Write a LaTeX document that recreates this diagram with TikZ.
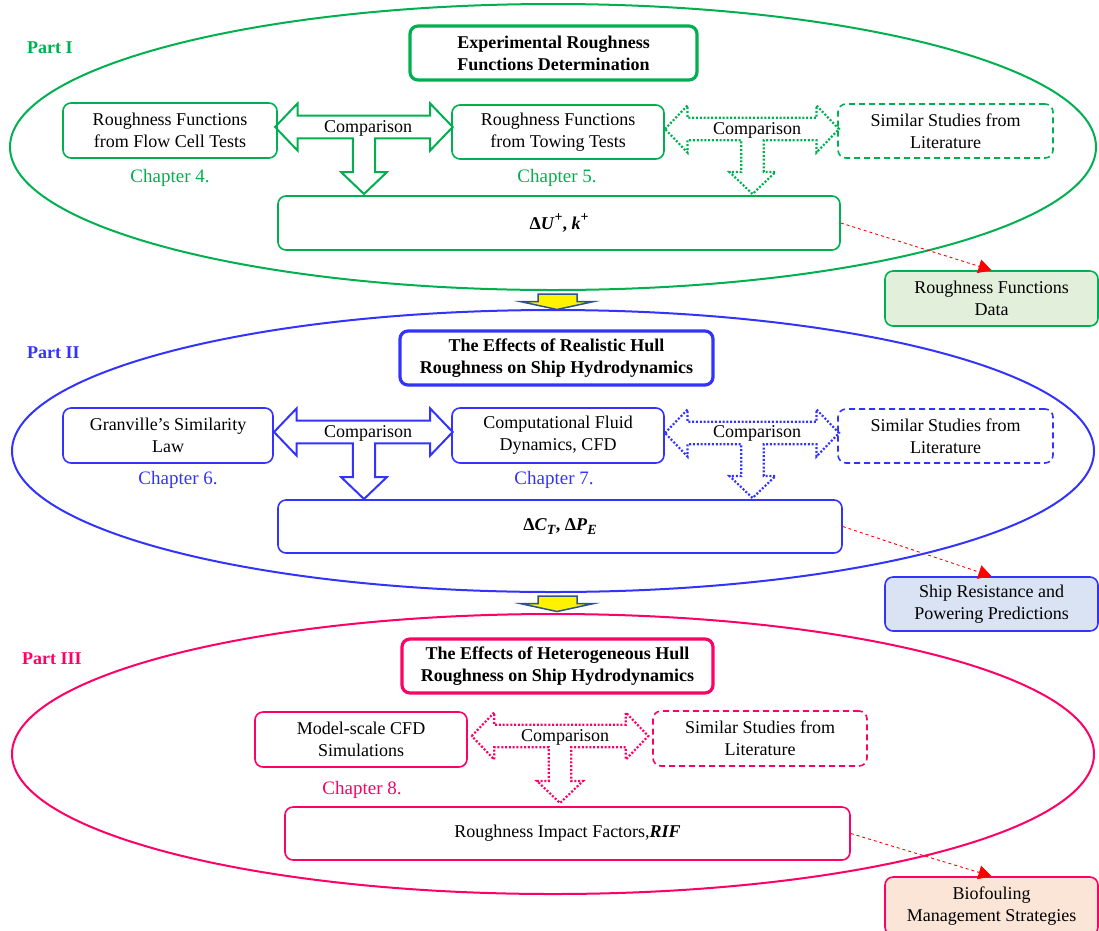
\documentclass[tikz,border=0pt]{standalone}
\usepackage{fontspec}
\setmainfont{Liberation Serif}
\usetikzlibrary{arrows.meta}

\definecolor{pgreen}{RGB}{0,176,80}
\definecolor{pblue}{RGB}{51,51,255}
\definecolor{ppink}{RGB}{255,0,102}
\definecolor{fgreen}{RGB}{226,239,218}
\definecolor{fblue}{RGB}{218,227,243}
\definecolor{fpink}{RGB}{251,229,214}
\definecolor{yedge}{RGB}{47,82,143}

% Block "comparison" arrow: double-headed horizontal arrow with a downward branch
% #1 style, #2 left tip x, #3 right tip x, #4 axis y, #5 branch x, #6 branch tip y
\newcommand\cmpshape[6]{%
  \draw[#1] (#2,#4) -- ({#2+22.5},{#4-23.5}) -- ({#2+22.5},{#4-11.3})
    -- ({#3-22.5},{#4-11.3}) -- ({#3-22.5},{#4-23.5}) -- (#3,#4)
    -- ({#3-22.5},{#4+23.5}) -- ({#3-22.5},{#4+11.3})
    -- ({#5+11.2},{#4+11.3}) -- ({#5+11.2},{#6-22}) -- ({#5+23},{#6-22})
    -- (#5,#6) -- ({#5-23},{#6-22}) -- ({#5-11.2},{#6-22})
    -- ({#5-11.2},{#4+11.3}) -- ({#2+22.5},{#4+11.3})
    -- ({#2+22.5},{#4+23.5}) -- cycle;}

% Yellow transition arrow between parts; #1 top y
\newcommand\yellowdown[1]{%
  \draw[line width=1.5pt, draw=yedge, fill=yellow, line join=miter]
    (538,#1) -- (577,#1) -- (577,{#1+7.7}) -- (593,{#1+7.7}) -- (557,{#1+15.5})
    -- (521,{#1+7.7}) -- (538,{#1+7.7}) -- cycle;}

% raised / lowered marks in the result boxes
\newcommand\supmark[1]{\raisebox{0.42em}{\fontsize{14}{14}\selectfont #1}}
\newcommand\submark[1]{\raisebox{-0.25em}{\fontsize{14}{14}\selectfont #1}}

\begin{document}
\begin{tikzpicture}[x=1pt,y=-1pt,
  every node/.style={font=\fontsize{18}{22}\selectfont},
  box/.style={draw, rounded corners=8pt, line width=1.6pt, align=center, inner sep=0pt},
  titlebox/.style={box, line width=3.2pt, font=\fontsize{18}{22}\selectfont\bfseries},
  litbox/.style={box, dash pattern=on 6pt off 4pt},
  partlabel/.style={anchor=west, inner sep=0pt, font=\fontsize{18}{22}\selectfont\bfseries},
  chapter/.style={font=\fontsize{19}{22}\selectfont},
  cmpsolid/.style={line width=2pt, line join=miter},
  cmpdot/.style={line width=2.2pt, dash pattern=on 2pt off 1.8pt},
  linkarrow/.style={red, dashed, line width=0.9pt, -{Triangle[length=13pt,width=14pt]}}]

\useasboundingbox (0,0) rectangle (1099,930);
\clip (0,0) rectangle (1099,930);

% ---------------- Part I ----------------
\draw[pgreen, line width=2pt] (553,147) ellipse [x radius=543, y radius=143];
\node[partlabel, text=pgreen] (p1) at (27,48) {Part I};
\node[titlebox, draw=pgreen, fill=white, minimum width=287, minimum height=54] (t1) at (553.5,53)
  {Experimental Roughness\\Functions Determination};
\node[box, draw=pgreen, minimum width=214, minimum height=55] (a1) at (170,130.5)
  {Roughness Functions\\from Flow Cell Tests};
\node[box, draw=pgreen, minimum width=212, minimum height=54] (b1) at (558,132)
  {Roughness Functions\\from Towing Tests};
\node[litbox, draw=pgreen, minimum width=215, minimum height=54] (c1) at (945.5,131)
  {Similar Studies from\\Literature};
\node[chapter, text=pgreen] (ch4) at (170,178) {Chapter 4.};
\node[chapter, text=pgreen] (ch5) at (557,178) {Chapter 5.};
\node[box, draw=pgreen, minimum width=562, minimum height=54] (d1) at (559,223)
  {\bfseries Δ\textit{U}\supmark{+}, \textit{k}\supmark{+}};
\cmpshape{cmpsolid, pgreen}{275}{452.7}{127}{364}{194}
\node (cmp1) at (368,128) {Comparison};
\cmpshape{cmpdot, pgreen}{665}{839}{129}{752.5}{194}
\node (cmp2) at (757,130) {Comparison};
\node[box, draw=pgreen, fill=fgreen, minimum width=213, minimum height=55] (s1) at (991.5,298.5)
  {Roughness Functions\\Data};
\draw[linkarrow] (d1.east) -- (s1.north);

\yellowdown{294}

% ---------------- Part II ----------------
\draw[pblue, line width=2pt] (553,451) ellipse [x radius=541, y radius=141];
\node[partlabel, text=pblue] (p2) at (27,353) {Part II};
\node[titlebox, draw=pblue, fill=white, minimum width=313, minimum height=54] (t2) at (556.5,358)
  {The Effects of Realistic Hull\\Roughness on Ship Hydrodynamics};
\node[box, draw=pblue, minimum width=210, minimum height=55] (a2) at (168,435.5)
  {Granville's Similarity\\Law};
\node[box, draw=pblue, minimum width=212, minimum height=55] (b2) at (558,435.5)
  {Computational Fluid\\Dynamics, CFD};
\node[litbox, draw=pblue, minimum width=215, minimum height=54] (c2) at (945.5,436)
  {Similar Studies from\\Literature};
\node[chapter, text=pblue] (ch6) at (178,480) {Chapter 6.};
\node[chapter, text=pblue] (ch7) at (554,480) {Chapter 7.};
\node[box, draw=pblue, minimum width=564, minimum height=53] (d2) at (560,526.5)
  {\bfseries Δ\textit{C}\submark{\textit{T}}, Δ\textit{P}\submark{\textit{E}}};
\cmpshape{cmpsolid, pblue}{274}{452.7}{432}{364}{499}
\node (cmp3) at (368,433) {Comparison};
\cmpshape{cmpdot, pblue}{665}{839}{433}{752.5}{498}
\node (cmp4) at (757,433) {Comparison};
\node[box, draw=pblue, fill=fblue, minimum width=213, minimum height=54] (s2) at (991.5,604)
  {Ship Resistance and\\Powering Predictions};
\draw[linkarrow] (d2.east) -- (s2.north);

\yellowdown{596}

% ---------------- Part III ----------------
\draw[ppink, line width=2pt] (553,754) ellipse [x radius=541, y radius=140];
\node[partlabel, text=ppink] (p3) at (22,659) {Part III};
\node[titlebox, draw=ppink, fill=white, minimum width=311, minimum height=54] (t3) at (557.5,666)
  {The Effects of Heterogeneous Hull\\Roughness on Ship Hydrodynamics};
\node[box, draw=ppink, minimum width=212, minimum height=55] (a3) at (361,739.5)
  {Model-scale CFD\\Simulations};
\node[litbox, draw=ppink, minimum width=214, minimum height=55] (c3) at (760,738.5)
  {Similar Studies from\\Literature};
\node[chapter, text=ppink] (ch8) at (362,790) {Chapter 8.};
\node[box, draw=ppink, minimum width=565, minimum height=53] (d3) at (567.5,833.5)
  {Roughness Impact Factors,\textbf{\textit{RIF}}};
\cmpshape{cmpdot, ppink}{471.7}{648.3}{736}{560}{803}
\node (cmp5) at (565,737) {Comparison};
\node[box, draw=ppink, fill=fpink, minimum width=213, minimum height=58] (s3) at (991.5,906)
  {Biofouling\\Management Strategies};
\draw[linkarrow] (d3.east) -- (s3.north);

\end{tikzpicture}
\end{document}
